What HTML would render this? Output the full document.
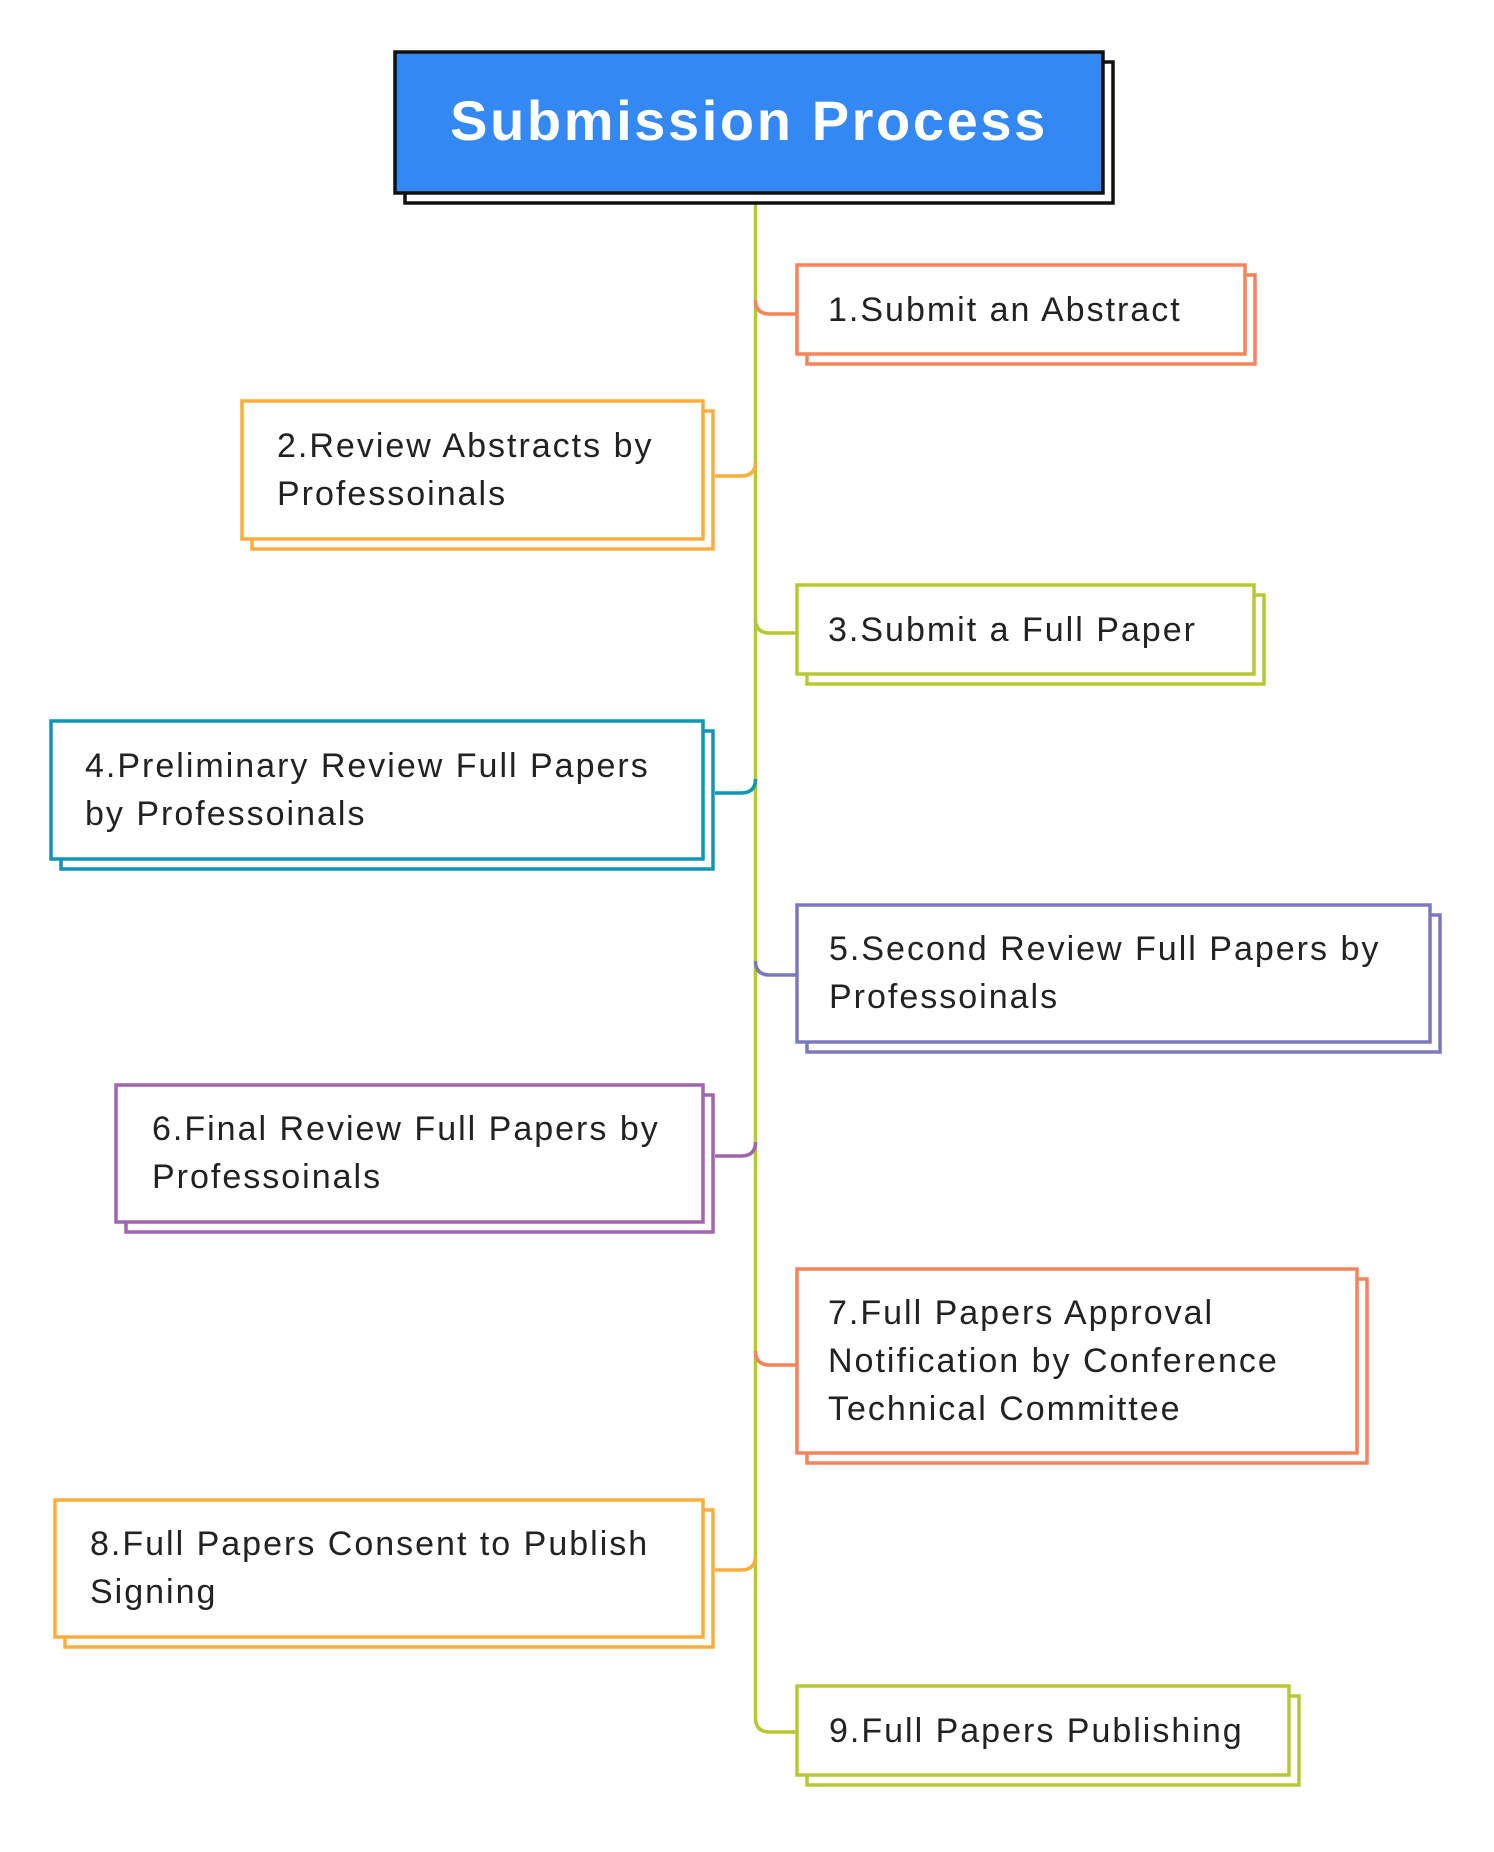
<!DOCTYPE html>
<html><head><meta charset="utf-8"><style>
html,body{margin:0;padding:0;background:#fff;}
svg{display:block}
text{font-family:"Liberation Sans",sans-serif;fill:#222;font-size:34px;letter-spacing:2px}
</style></head><body>
<svg width="1494" height="1852" viewBox="0 0 1494 1852" xmlns="http://www.w3.org/2000/svg">
<g fill="#fff" stroke-width="3.5">
<path d="M755.5 193 V1718 Q755.5 1732 770 1732 H797" fill="none" stroke="#b5c935"/>
<path d="M755.5 300 Q755.5 314 770 314 H797" fill="none" stroke="#f5845a"/>
<path d="M755.5 462 Q755.5 476 741 476 H715" fill="none" stroke="#fbae3c"/>
<path d="M755.5 619 Q755.5 633 770 633 H797" fill="none" stroke="#b5c935"/>
<path d="M755.5 779 Q755.5 793 741 793 H715" fill="none" stroke="#0f95b8"/>
<path d="M755.5 961 Q755.5 975 770 975 H797" fill="none" stroke="#7b78c1"/>
<path d="M755.5 1142 Q755.5 1156 741 1156 H715" fill="none" stroke="#a065ae"/>
<path d="M755.5 1351 Q755.5 1365 770 1365 H797" fill="none" stroke="#f5845a"/>
<path d="M755.5 1556 Q755.5 1570 741 1570 H715" fill="none" stroke="#fbae3c"/>
<rect x="405" y="62" width="708" height="141" stroke="#111" stroke-width="3.5"/>
<rect x="395" y="52" width="708" height="141" fill="#3388f3" stroke="#111" stroke-width="3.5"/>
<rect x="807" y="275" width="448" height="89" stroke="#f5845a"/>
<rect x="797" y="265" width="448" height="89" stroke="#f5845a"/>
<rect x="252" y="411" width="461" height="138" stroke="#fbae3c"/>
<rect x="242" y="401" width="461" height="138" stroke="#fbae3c"/>
<rect x="807" y="595" width="457" height="89" stroke="#b5c935"/>
<rect x="797" y="585" width="457" height="89" stroke="#b5c935"/>
<rect x="61" y="731" width="652" height="138" stroke="#0f95b8"/>
<rect x="51" y="721" width="652" height="138" stroke="#0f95b8"/>
<rect x="807" y="915" width="633" height="137" stroke="#7b78c1"/>
<rect x="797" y="905" width="633" height="137" stroke="#7b78c1"/>
<rect x="126" y="1095" width="587" height="137" stroke="#a065ae"/>
<rect x="116" y="1085" width="587" height="137" stroke="#a065ae"/>
<rect x="807" y="1279" width="560" height="184" stroke="#f5845a"/>
<rect x="797" y="1269" width="560" height="184" stroke="#f5845a"/>
<rect x="65" y="1510" width="648" height="137" stroke="#fbae3c"/>
<rect x="55" y="1500" width="648" height="137" stroke="#fbae3c"/>
<rect x="807" y="1696" width="492" height="89" stroke="#b5c935"/>
<rect x="797" y="1686" width="492" height="89" stroke="#b5c935"/>
</g>
<text x="749" y="140" text-anchor="middle" style="fill:#fff;font-weight:bold;font-size:56px;letter-spacing:2.6px">Submission Process</text>
<text x="828" y="321">1.Submit an Abstract</text>
<text x="277" y="457">2.Review Abstracts by</text>
<text x="277" y="505">Professoinals</text>
<text x="828" y="641">3.Submit a Full Paper</text>
<text x="85" y="777">4.Preliminary Review Full Papers</text>
<text x="85" y="825">by Professoinals</text>
<text x="829" y="960">5.Second Review Full Papers by</text>
<text x="829" y="1008">Professoinals</text>
<text x="152" y="1140">6.Final Review Full Papers by</text>
<text x="152" y="1188">Professoinals</text>
<text x="828" y="1324">7.Full Papers Approval</text>
<text x="828" y="1372">Notification by  Conference</text>
<text x="828" y="1420">Technical Committee</text>
<text x="90" y="1555">8.Full Papers Consent to Publish</text>
<text x="90" y="1603">Signing</text>
<text x="829" y="1742">9.Full Papers Publishing</text>
</svg>
</body></html>
